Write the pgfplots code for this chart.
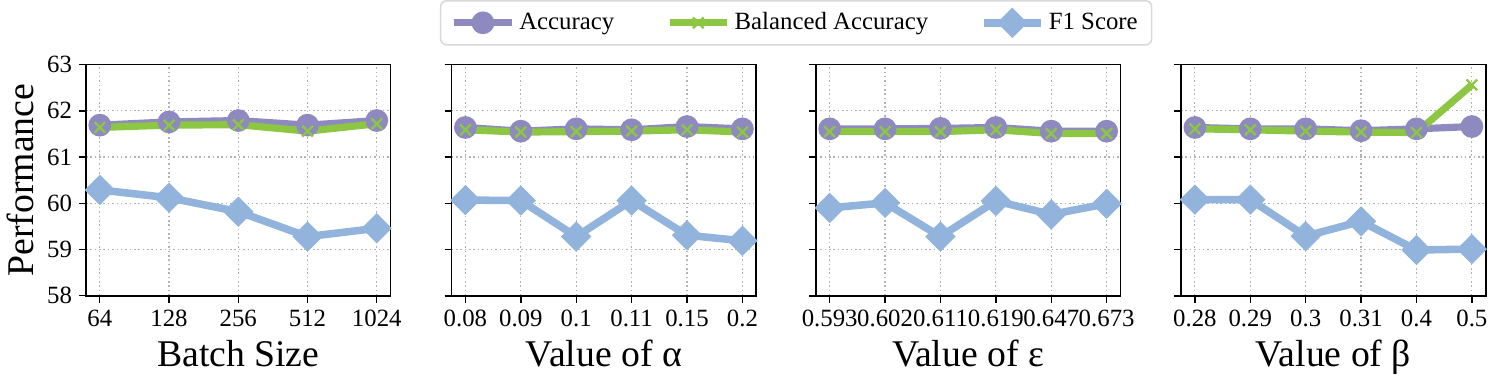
\documentclass[border=0pt]{standalone}
\usepackage{fontspec}
\setmainfont{Liberation Serif}
\usepackage{pgfplots}
\pgfplotsset{compat=1.18}

\definecolor{accpurple}{RGB}{142,138,192}
\definecolor{balgreen}{RGB}{141,198,66}
\definecolor{fblue}{RGB}{146,180,220}

\pgfplotsset{
  panel/.style={
    width=153.5pt, height=116.5pt, scale only axis,
    ymin=58, ymax=63, ytick={58,...,63},
    xmin=-0.25, xmax=5.25, xtick={0,...,5},
    grid=major,
    grid style={dash pattern=on 0.8pt off 1.4pt, gray!60, line width=0.6pt},
    tick align=outside, xtick pos=left, ytick pos=left,
    major tick length=3.5pt,
    tick style={black, line width=0.7pt},
    axis line style={line width=0.8pt},
    tick label style={font=\rmfamily\fontsize{12.5}{12.5}\selectfont},
    label style={font=\rmfamily\fontsize{19}{19}\selectfont},
    /pgf/number format/assume math mode=true,
  },
  accst/.style={color=accpurple, line width=3.6pt, mark=*, mark size=3.9pt},
  balst/.style={color=balgreen, line width=3.6pt, mark=x, mark size=3.8pt,
    mark options={line width=1.2pt}},
  f1st/.style={color=fblue, line width=3.8pt, mark=square*, mark size=3.5pt,
    mark options={rotate=45}},
}

\begin{document}
\begin{tikzpicture}
% Batch size
\begin{axis}[panel, xmin=-0.2, xmax=4.2, xtick={0,...,4},
    xticklabels={64,128,256,512,1024},
    xlabel={Batch Size}, ylabel={Performance}]
  \addplot[accst] coordinates {(0,61.69) (1,61.76) (2,61.79) (3,61.69) (4,61.79)};
  \addplot[balst] coordinates {(0,61.64) (1,61.69) (2,61.70) (3,61.56) (4,61.72)};
  \addplot[f1st] coordinates {(0,60.29) (1,60.12) (2,59.82) (3,59.28) (4,59.46)};
\end{axis}

% alpha
\begin{axis}[panel, at={(184.2pt,0pt)}, yticklabels={},
    xticklabels={0.08,0.09,0.1,0.11,0.15,0.2},
    xlabel={Value of α},
    legend columns=3,
    legend cell align=left,
    legend style={at={(1.131,1.082)}, anchor=south,
      draw=gray!30, rounded corners=3pt, line width=0.8pt,
      font=\rmfamily\fontsize{12.5}{13}\selectfont,
      inner xsep=5pt, inner ysep=4pt,
      /tikz/every even column/.append style={column sep=24pt}},
    legend image code/.code={
      \draw[mark repeat=2, mark phase=2] plot coordinates {(0pt,0pt) (14.5pt,0pt) (29pt,0pt)};}]
  \addplot[accst] coordinates {(0,61.64) (1,61.56) (2,61.61) (3,61.59) (4,61.66) (5,61.61)};
  \addlegendentry{Accuracy}
  \addplot[balst] coordinates {(0,61.59) (1,61.54) (2,61.55) (3,61.56) (4,61.59) (5,61.54)};
  \addlegendentry{Balanced Accuracy}
  \addplot[f1st] coordinates {(0,60.07) (1,60.06) (2,59.28) (3,60.06) (4,59.31) (5,59.19)};
  \addlegendentry{F1 Score}
\end{axis}

% epsilon
\begin{axis}[panel, at={(367.7pt,0pt)}, yticklabels={},
    xticklabels={0.593,0.602,0.611,0.619,0.647,0.673},
    xlabel={Value of ε}]
  \addplot[accst] coordinates {(0,61.61) (1,61.61) (2,61.62) (3,61.64) (4,61.56) (5,61.56)};
  \addplot[balst] coordinates {(0,61.55) (1,61.55) (2,61.55) (3,61.59) (4,61.51) (5,61.51)};
  \addplot[f1st] coordinates {(0,59.90) (1,60.01) (2,59.28) (3,60.05) (4,59.76) (5,59.99)};
\end{axis}

% beta
\begin{axis}[panel, at={(551.7pt,0pt)}, yticklabels={},
    xticklabels={0.28,0.29,0.3,0.31,0.4,0.5},
    xlabel={Value of β}]
  \addplot[accst] coordinates {(0,61.64) (1,61.61) (2,61.61) (3,61.57) (4,61.61) (5,61.66)};
  \addplot[balst] coordinates {(0,61.61) (1,61.59) (2,61.56) (3,61.54) (4,61.53) (5,62.56)};
  \addplot[f1st] coordinates {(0,60.08) (1,60.08) (2,59.29) (3,59.61) (4,58.99) (5,59.01)};
\end{axis}
\end{tikzpicture}
\end{document}
